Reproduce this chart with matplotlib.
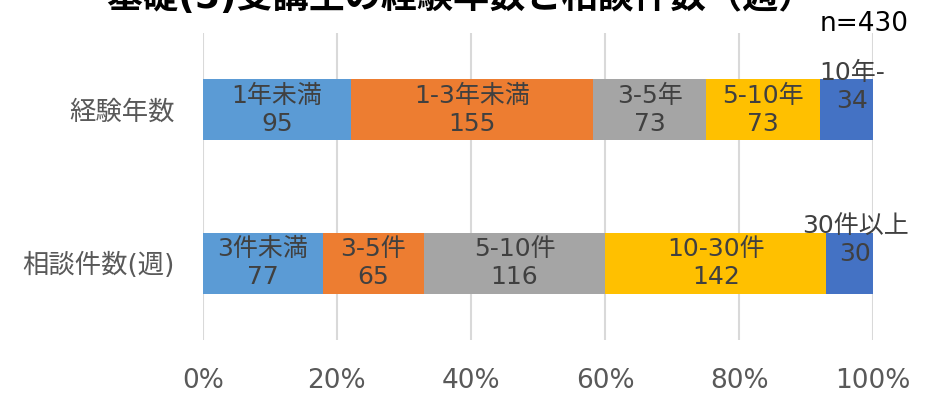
import matplotlib
matplotlib.use('Agg')
import matplotlib.pyplot as plt

# Latin glyphs from DejaVu (wide, like Meiryo), Japanese from Noto CJK
plt.rcParams['font.family'] = ['DejaVu Sans', 'Noto Sans CJK JP']

# Data
rows = ['経験年数', '相談件数(週)']
labels = [
	['1年未満', '1-3年未満', '3-5年', '5-10年', '10年-'],
	['3件未満', '3-5件', '5-10件', '10-30件', '30件以上'],
]
counts = [
	[95, 155, 73, 73, 34],
	[77, 65, 116, 142, 30],
]
colors = ['#5B9BD5', '#ED7D31', '#A5A5A5', '#FFC000', '#4472C4']
ticks = [0, 20, 40, 60, 80, 100]
tick_labels = ['0%', '20%', '40%', '60%', '80%', '100%']

fig = plt.figure(figsize=(9.3, 3.93), dpi=100)
ax = fig.add_axes([0.218, 0.135, 0.721, 0.781])

for r in range(len(rows)):
	total = sum(counts[r])
	left = 0
	for k in range(len(counts[r])):
		w = counts[r][k] / total * 100
		ax.barh(r, w, left=left, height=0.4, color=colors[k], zorder=2)
		# last narrow segment: label spills upward and a bit right
		last = k == len(counts[r]) - 1
		dx = 0.8 if last else 0
		dy = -0.15 if last else 0
		ax.text(left + w / 2 + dx, r + dy, labels[r][k] + '\n' + str(counts[r][k]),
				ha='center', va='center', fontsize=18, color='#404040',
				linespacing=1.2, zorder=3)
		left += w

ax.set_xlim(0, 100)
ax.set_ylim(1.5, -0.5)
ax.set_xticks(ticks)
ax.set_xticklabels(tick_labels)
ax.set_yticks(range(len(rows)))
ax.set_yticklabels(rows)
ax.tick_params(axis='x', length=0, pad=20, labelsize=19, labelcolor='#595959')
ax.tick_params(axis='y', length=0, pad=20, labelsize=19, labelcolor='#595959')
ax.grid(axis='x', color='#D9D9D9', linewidth=1.5, zorder=0)
for s in ax.spines.values():
	s.set_visible(False)

# title is partly above the top edge, as in the original
fig.text(0.495, 1.008, '基礎(5)受講生の経験年数と相談件数（週）', ha='center', va='center',
		 fontsize=26, fontweight='bold', color='#000000')
fig.text(0.977, 0.940, 'n=430', ha='right', va='center', fontsize=19, color='#000000')

fig.savefig('out.png', dpi=100)
